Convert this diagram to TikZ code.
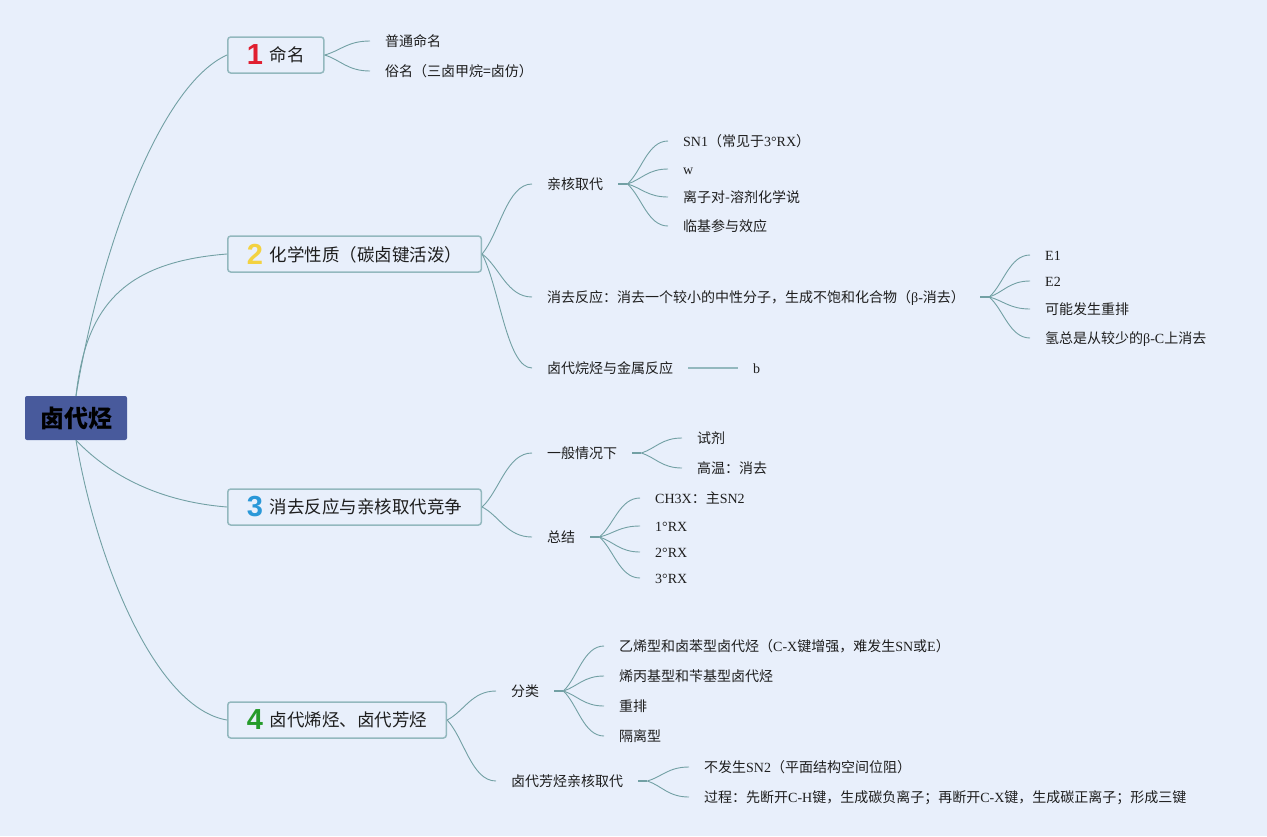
\documentclass[tikz,border=0pt]{standalone}
\usepackage{fontspec}
\setmainfont{Liberation Serif}
\newfontfamily\cjk{Noto Sans CJK SC}
\newfontfamily\numf{Liberation Sans}
\usetikzlibrary{calc}
\definecolor{bg}{HTML}{E8EFFB}
\definecolor{ln}{HTML}{72A0A4}
\definecolor{bx}{HTML}{93B8BE}
\definecolor{rootc}{HTML}{485A9C}
\definecolor{tx}{HTML}{1E1E1E}
\definecolor{cA}{HTML}{E01F30}
\definecolor{cB}{HTML}{F3D241}
\definecolor{cC}{HTML}{2A98D8}
\definecolor{cD}{HTML}{259B2A}
\newcommand\en[1]{{\rmfamily #1}}
\newcommand\bnum[2]{\raisebox{-3pt}{\numf\bfseries\fontsize{29}{30}\selectfont\textcolor{#1}{#2}}\hspace{7pt}}
\begin{document}
\begin{tikzpicture}[x=1pt,y=-1pt,
  every node/.style={text=tx},
  leaf/.style={anchor=west, inner xsep=15pt, inner ysep=0pt, font=\cjk\fontsize{14}{16}\selectfont, text height=12pt, text depth=1.5pt},
  branch/.style={anchor=west, draw=bx, line width=1.5pt, rounded corners=3pt, fill=bg, minimum height=36pt, inner xsep=19pt, inner ysep=0pt, font=\cjk\fontsize{17.5}{20}\selectfont},
  rootbox/.style={fill=rootc, rounded corners=2pt, minimum width=102pt, minimum height=44pt, inner sep=0pt, font=\cjk\bfseries\fontsize{24}{26}\selectfont, text=black},
  link/.style={draw=ln, line width=0.9pt},
  fan/.style={to path={let \p1=(\tikztostart), \p2=(\tikztotarget) in .. controls ({\x1+0.35*(\x2-\x1)},{\y1+0.3*(\y2-\y1)}) and ({\x1+0.5*(\x2-\x1)},{\y2}) .. (\tikztotarget)}},
  stub/.style={draw=ln, line width=2.5pt},
]
\fill[bg] (0,0) rectangle (1267,836);

% root and main branches
\node[rootbox] (root) at (76,418) {卤代烃};
\node[branch] (b1) at (227,55) {\bnum{cA}{1}命名};
\node[branch] (b2) at (227,254) {\bnum{cB}{2}化学性质（碳卤键活泼）};
\node[branch] (b3) at (227,507) {\bnum{cC}{3}消去反应与亲核取代竞争};
\node[branch] (b4) at (227,720) {\bnum{cD}{4}卤代烯烃、卤代芳烃};

\draw[link] (root.north) .. controls (100,250) and (160,85) .. (b1.west);
\draw[link] (root.north) .. controls (86,305) and (125,262) .. (b2.west);
\draw[link] (root.south) .. controls (95,460) and (140,500) .. (b3.west);
\draw[link] (root.south) .. controls (96,560) and (155,708) .. (b4.west);

% branch 1
\node[leaf] (l11) at (370,41) {普通命名};
\node[leaf] (l12) at (370,71) {俗名（三卤甲烷=卤仿）};
\foreach \t in {l11,l12} \draw[link] (b1.east) to[fan] (\t.west);

% branch 2
\node[leaf] (s21) at (532,184) {亲核取代};
\node[leaf] (s22) at (532,297) {消去反应：消去一个较小的中性分子，生成不饱和化合物（\en{β-}消去）};
\node[leaf] (s23) at (532,368) {卤代烷烃与金属反应};
\foreach \t in {s21,s22,s23} \draw[link] (b2.east) to[fan] (\t.west);

\node[leaf] (l211) at (668,141) {\en{SN1}（常见于\en{3°RX}）};
\node[leaf] (l212) at (668,169) {\en{w}};
\node[leaf] (l213) at (668,197) {离子对-溶剂化学说};
\node[leaf] (l214) at (668,226) {临基参与效应};
\coordinate (j21) at ([xshift=9pt]s21.east);
\draw[stub] (s21.east) -- (j21);
\foreach \t in {l211,l212,l213,l214} \draw[link] (j21) to[fan] (\t.west);

\node[leaf] (l221) at (1030,255) {\en{E1}};
\node[leaf] (l222) at (1030,281) {\en{E2}};
\node[leaf] (l223) at (1030,309) {可能发生重排};
\node[leaf] (l224) at (1030,338) {氢总是从较少的\en{β-C}上消去};
\coordinate (j22) at ([xshift=9pt]s22.east);
\draw[stub] (s22.east) -- (j22);
\foreach \t in {l221,l222,l223,l224} \draw[link] (j22) to[fan] (\t.west);

\node[leaf] (l231) at (738,368) {\en{b}};
\draw[draw=bx, line width=1.5pt] (s23.east) -- (l231.west);

% branch 3
\node[leaf] (s31) at (532,453) {一般情况下};
\node[leaf] (s32) at (532,537) {总结};
\foreach \t in {s31,s32} \draw[link] (b3.east) to[fan] (\t.west);

\node[leaf] (l311) at (682,438) {试剂};
\node[leaf] (l312) at (682,468) {高温：消去};
\coordinate (j31) at ([xshift=9pt]s31.east);
\draw[stub] (s31.east) -- (j31);
\foreach \t in {l311,l312} \draw[link] (j31) to[fan] (\t.west);

\node[leaf] (l321) at (640,498) {\en{CH3X}：主\en{SN2}};
\node[leaf] (l322) at (640,526) {\en{1°RX}};
\node[leaf] (l323) at (640,552) {\en{2°RX}};
\node[leaf] (l324) at (640,578) {\en{3°RX}};
\coordinate (j32) at ([xshift=9pt]s32.east);
\draw[stub] (s32.east) -- (j32);
\foreach \t in {l321,l322,l323,l324} \draw[link] (j32) to[fan] (\t.west);

% branch 4
\node[leaf] (s41) at (496,691) {分类};
\node[leaf] (s42) at (496,781) {卤代芳烃亲核取代};
\foreach \t in {s41,s42} \draw[link] (b4.east) to[fan] (\t.west);

\node[leaf] (l411) at (604,646) {乙烯型和卤苯型卤代烃（\en{C-X}键增强，难发生\en{SN}或\en{E}）};
\node[leaf] (l412) at (604,676) {烯丙基型和苄基型卤代烃};
\node[leaf] (l413) at (604,706) {重排};
\node[leaf] (l414) at (604,736) {隔离型};
\coordinate (j41) at ([xshift=9pt]s41.east);
\draw[stub] (s41.east) -- (j41);
\foreach \t in {l411,l412,l413,l414} \draw[link] (j41) to[fan] (\t.west);

\node[leaf] (l421) at (689,767) {不发生\en{SN2}（平面结构空间位阻）};
\node[leaf] (l422) at (689,797) {过程：先断开\en{C-H}键，生成碳负离子；再断开\en{C-X}键，生成碳正离子；形成三键};
\coordinate (j42) at ([xshift=9pt]s42.east);
\draw[stub] (s42.east) -- (j42);
\foreach \t in {l421,l422} \draw[link] (j42) to[fan] (\t.west);
\end{tikzpicture}
\end{document}
